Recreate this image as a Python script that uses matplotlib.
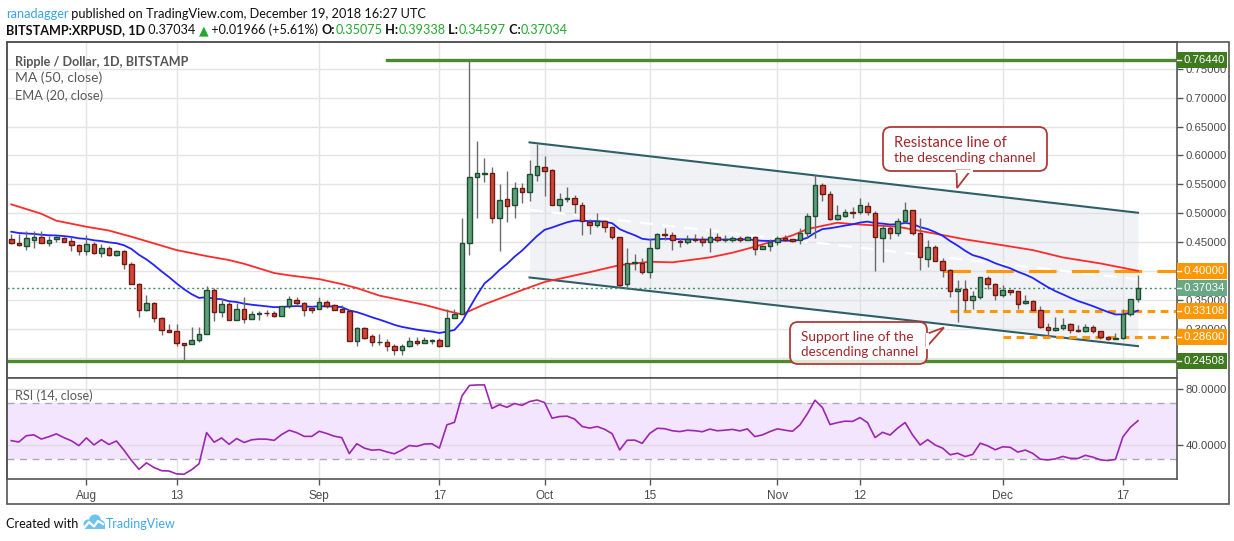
import numpy as np
import pandas as pd
import matplotlib
matplotlib.use('Agg')
import matplotlib.pyplot as plt
from matplotlib.transforms import Affine2D, blended_transform_factory
from matplotlib.patches import Rectangle, FancyBboxPatch, Polygon, Circle
from matplotlib.lines import Line2D

# ---------------- data ----------------
dates = pd.date_range('2018-07-22', '2018-12-19', freq='D')

opens = [0.4547, 0.4483, 0.4425, 0.4541, 0.4581, 0.4478, 0.4547, 0.4564, 0.4512, 0.4443,
         0.4339, 0.4460, 0.4305, 0.4391, 0.4282, 0.4339, 0.4114, 0.3768, 0.3318, 0.3439,
         0.3180, 0.2972, 0.2955, 0.2747, 0.2730, 0.2799, 0.2914, 0.3664, 0.3283, 0.3422,
         0.3145, 0.3335, 0.3162, 0.3249, 0.3270, 0.3266, 0.3226, 0.3387, 0.3491, 0.3439,
         0.3358, 0.3347, 0.3456, 0.3404, 0.3335, 0.3301, 0.2781, 0.3006, 0.2868, 0.2764,
         0.2764, 0.2695, 0.2625, 0.2695, 0.2781, 0.2747, 0.2793, 0.2810, 0.2695, 0.3180,
         0.3249, 0.4477, 0.5620, 0.5683, 0.5694, 0.4910, 0.5239, 0.5135, 0.5429, 0.5360,
         0.5654, 0.5793, 0.5740, 0.5135, 0.5250, 0.5256, 0.5135, 0.4841, 0.4789, 0.4869,
         0.4754, 0.4581, 0.3767, 0.4131, 0.4131, 0.3975, 0.4390, 0.4633, 0.4616, 0.4524,
         0.4495, 0.4547, 0.4547, 0.4495, 0.4581, 0.4530, 0.4530, 0.4570, 0.4530, 0.4581,
         0.4385, 0.4425, 0.4495, 0.4570, 0.4547, 0.4529, 0.4650, 0.4945, 0.5481, 0.5326,
         0.4893, 0.4945, 0.5020, 0.5014, 0.5118, 0.4997, 0.4564, 0.4737, 0.4650, 0.4858,
         0.5049, 0.4651, 0.4212, 0.4408, 0.4166, 0.4010, 0.3647, 0.3681, 0.3502, 0.3543,
         0.3872, 0.3768, 0.3577, 0.3664, 0.3647, 0.3439, 0.3474, 0.3324, 0.3024, 0.2983,
         0.3006, 0.3075, 0.2978, 0.2955, 0.3024, 0.2955, 0.2851, 0.2822, 0.2839, 0.3260,
         0.35075]
highs = [0.4640, 0.4640, 0.4690, 0.4690, 0.4690, 0.4610, 0.4610, 0.4590, 0.4580, 0.4460,
         0.4620, 0.4500, 0.4460, 0.4440, 0.4370, 0.4370, 0.4150, 0.3790, 0.3580, 0.3470,
         0.3210, 0.3090, 0.3090, 0.2747, 0.3030, 0.3030, 0.3733, 0.3699, 0.3526, 0.3470,
         0.3440, 0.3543, 0.3300, 0.3300, 0.3320, 0.3300, 0.3387, 0.3570, 0.3543, 0.3470,
         0.3387, 0.3543, 0.3490, 0.3421, 0.3404, 0.3320, 0.3035, 0.3035, 0.2903, 0.2903,
         0.2816, 0.2735, 0.2730, 0.2851, 0.2850, 0.2851, 0.2816, 0.2833, 0.3335, 0.3335,
         0.4910, 0.7644, 0.6248, 0.5948, 0.5793, 0.5498, 0.5730, 0.5544, 0.5515, 0.5920,
         0.6202, 0.5994, 0.5758, 0.5354, 0.5452, 0.5314, 0.5193, 0.4898, 0.5002, 0.4887,
         0.4770, 0.4581, 0.4390, 0.4287, 0.4217, 0.4575, 0.4650, 0.4737, 0.4667, 0.4570,
         0.4616, 0.4633, 0.4604, 0.4737, 0.4650, 0.4616, 0.4604, 0.4604, 0.4604, 0.4604,
         0.4454, 0.4558, 0.4604, 0.4616, 0.4558, 0.4737, 0.5002, 0.5655, 0.5516, 0.5383,
         0.5135, 0.5066, 0.5112, 0.5262, 0.5193, 0.5031, 0.4789, 0.4789, 0.4922, 0.5193,
         0.5049, 0.4910, 0.4535, 0.4449, 0.4218, 0.4027, 0.3843, 0.3843, 0.3653, 0.3900,
         0.3906, 0.3785, 0.3756, 0.3664, 0.3647, 0.3577, 0.3491, 0.3387, 0.3104, 0.3203,
         0.3180, 0.3104, 0.3070, 0.3075, 0.3058, 0.2966, 0.2874, 0.2920, 0.3347, 0.3520,
         0.39338]
lows = [0.4460, 0.4430, 0.4370, 0.4400, 0.4480, 0.4440, 0.4500, 0.4500, 0.4350, 0.4280,
        0.4280, 0.4290, 0.4250, 0.4260, 0.4260, 0.4040, 0.3770, 0.3210, 0.3300, 0.3120,
        0.2890, 0.2940, 0.2710, 0.2451, 0.2730, 0.2780, 0.2914, 0.3130, 0.3200, 0.3145,
        0.3145, 0.3100, 0.3162, 0.3160, 0.3220, 0.3200, 0.3226, 0.3364, 0.3387, 0.3220,
        0.3270, 0.3347, 0.3364, 0.3330, 0.3295, 0.2781, 0.2695, 0.2816, 0.2695, 0.2712,
        0.2608, 0.2539, 0.2539, 0.2680, 0.2724, 0.2747, 0.2741, 0.2680, 0.2695, 0.3180,
        0.3249, 0.4275, 0.4910, 0.5544, 0.4823, 0.4350, 0.4850, 0.4925, 0.5170, 0.5215,
        0.5562, 0.5302, 0.5135, 0.5030, 0.5200, 0.4998, 0.4616, 0.4633, 0.4754, 0.4679,
        0.4546, 0.3715, 0.3720, 0.4015, 0.3940, 0.3883, 0.4373, 0.4529, 0.4367, 0.4420,
        0.4466, 0.4506, 0.4431, 0.4333, 0.4506, 0.4500, 0.4506, 0.4506, 0.4530, 0.4270,
        0.4379, 0.4339, 0.4454, 0.4523, 0.4500, 0.4472, 0.4570, 0.4570, 0.5216, 0.4881,
        0.4887, 0.4928, 0.4922, 0.4991, 0.4968, 0.4004, 0.4160, 0.4558, 0.4604, 0.4835,
        0.4616, 0.4016, 0.4062, 0.4166, 0.3889, 0.3554, 0.3122, 0.3324, 0.3335, 0.3520,
        0.3687, 0.3502, 0.3543, 0.3577, 0.3347, 0.3427, 0.3324, 0.3006, 0.2879, 0.2966,
        0.2978, 0.2931, 0.2943, 0.2943, 0.2926, 0.2822, 0.2805, 0.2822, 0.2828, 0.3220,
        0.34597]
closes = [0.4478, 0.4443, 0.4564, 0.4581, 0.4489, 0.4530, 0.4581, 0.4507, 0.4443, 0.4339,
          0.4460, 0.4305, 0.4391, 0.4282, 0.4339, 0.4114, 0.3768, 0.3318, 0.3439, 0.3180,
          0.2972, 0.2949, 0.2747, 0.2724, 0.2799, 0.2903, 0.3664, 0.3283, 0.3422, 0.3145,
          0.3335, 0.3162, 0.3249, 0.3272, 0.3266, 0.3226, 0.3387, 0.3508, 0.3439, 0.3330,
          0.3330, 0.3456, 0.3399, 0.3330, 0.3295, 0.2781, 0.3006, 0.2845, 0.2764, 0.2776,
          0.2695, 0.2625, 0.2695, 0.2781, 0.2758, 0.2799, 0.2804, 0.2695, 0.3180, 0.3249,
          0.4478, 0.5620, 0.5694, 0.5700, 0.4910, 0.5221, 0.5118, 0.5429, 0.5360, 0.5677,
          0.5810, 0.5723, 0.5135, 0.5239, 0.5262, 0.5152, 0.4858, 0.4789, 0.4858, 0.4754,
          0.4581, 0.3750, 0.4142, 0.4148, 0.3975, 0.4390, 0.4633, 0.4616, 0.4529, 0.4495,
          0.4547, 0.4530, 0.4495, 0.4581, 0.4530, 0.4547, 0.4570, 0.4530, 0.4581, 0.4385,
          0.4425, 0.4500, 0.4564, 0.4535, 0.4512, 0.4650, 0.4945, 0.5481, 0.5326, 0.4893,
          0.4962, 0.5014, 0.5008, 0.5135, 0.5014, 0.4581, 0.4737, 0.4650, 0.4858, 0.5049,
          0.4651, 0.4235, 0.4408, 0.4166, 0.4010, 0.3647, 0.3693, 0.3502, 0.3560, 0.3889,
          0.3768, 0.3577, 0.3664, 0.3641, 0.3422, 0.3474, 0.3324, 0.3024, 0.2983, 0.3006,
          0.3058, 0.2972, 0.2966, 0.3024, 0.2955, 0.2851, 0.2822, 0.2839, 0.3260, 0.3508,
          0.37034]

# MA(50) (day index, value)
ma_days = [0, 4, 6, 10, 13, 16, 19, 22, 26, 29, 31, 35, 37, 41, 44, 46, 49, 52, 55, 58,
           60, 63, 68, 71, 77, 81, 85, 88, 93, 96, 99, 101, 104, 106, 110, 112, 115, 118,
           124, 127, 131, 136, 140, 145, 150]
ma_vals = [0.5153, 0.4990, 0.4870, 0.4766, 0.4700, 0.4593, 0.4478, 0.4362, 0.4258, 0.4189,
           0.4125, 0.3965, 0.3925, 0.3860, 0.3774, 0.3705, 0.3575, 0.3495, 0.3415, 0.3310,
           0.3250, 0.3424, 0.3670, 0.3810, 0.3980, 0.4102, 0.4160, 0.4150, 0.4235, 0.4316,
           0.4420, 0.4500, 0.4616, 0.4726, 0.4835, 0.4812, 0.4789, 0.4766, 0.4622, 0.4547,
           0.4466, 0.4362, 0.4235, 0.4131, 0.4004]
ema_seed = 0.468
rsi_seed_gain, rsi_seed_loss = 0.0050, 0.0066

# drawn levels / channel
level_top, level_top_from = 0.76440, '2018-09-10'
level_bottom = 0.24508
res_level, res_from = 0.40000, '2018-11-23'
sup1_level, sup1_from = 0.33108, '2018-11-24'
sup2_level, sup2_from = 0.28600, '2018-12-01'
last_price = 0.37034
channel_days = ['2018-09-29', '2018-12-19']
channel_upper = [0.6225, 0.5008]
channel_lower = [0.3888, 0.2700]

tick_dates = ['2018-08-01', '2018-08-13', '2018-09-01', '2018-09-17', '2018-10-01',
              '2018-10-15', '2018-11-01', '2018-11-12', '2018-12-01', '2018-12-17']
tick_labels = ['Aug', '13', 'Sep', '17', 'Oct', '15', 'Nov', '12', 'Dec', '17']
price_ticks = [0.30, 0.35, 0.40, 0.45, 0.50, 0.55, 0.60, 0.65, 0.70, 0.75]
rsi_ticks = [40, 80]

# ---------------- derived ----------------
O = np.array(opens); Hh = np.array(highs); Lw = np.array(lows); C = np.array(closes)
idx = np.arange(len(C))
day = {d.strftime('%Y-%m-%d'): i for i, d in enumerate(dates)}

ema = [ema_seed]
a = 2 / 21
for c in C[1:]:
    ema.append(a * c + (1 - a) * ema[-1])
ema = np.array(ema)

dif = np.diff(C)
ag, al = [rsi_seed_gain], [rsi_seed_loss]
for dd in dif:
    ag.append((ag[-1] * 13 + max(dd, 0)) / 14)
    al.append((al[-1] * 13 + max(-dd, 0)) / 14)
rsi = 100 - 100 / (1 + np.array(ag) / np.array(al))

# ---------------- figure ----------------
W, Hpx = 1234, 541
plt.rcParams['font.family'] = ['Liberation Sans', 'DejaVu Sans']
fig = plt.figure(figsize=(W / 100, Hpx / 100), dpi=100)
fig.patch.set_facecolor('white')
PX = Affine2D().scale(1 / W, -1 / Hpx).translate(0, 1) + fig.transFigure

L0, R0, T0, B0, RB = 7, 1177, 42, 378, 479
ax = fig.add_axes([L0 / W, 1 - B0 / Hpx, (R0 - L0) / W, (B0 - T0) / Hpx])
axr = fig.add_axes([L0 / W, 1 - RB / Hpx, (R0 - L0) / W, (RB - B0) / Hpx], sharex=ax)

XL = (-0.57, 155.2)
ax.set_xlim(*XL)
ax.set_ylim(0.2149, 0.7962)
axr.set_ylim(15.71, 87.86)

SPC = '#555555'
GRID = '#e4e4e4'
TXT = '#4a4a4a'
for a_ in (ax, axr):
    for s in a_.spines.values():
        s.set_color(SPC)
        s.set_linewidth(1.2)
    a_.set_facecolor('white')

tpos = [day[d] for d in tick_dates]
for t in tpos:
    ax.axvline(t, color=GRID, lw=1, zorder=0)
    axr.axvline(t, color=GRID, lw=1, zorder=0)
for p in price_ticks + [0.25]:
    ax.axhline(p, color=GRID, lw=1, zorder=0)

# price axis
ax.yaxis.tick_right()
ax.set_yticks(price_ticks)
ax.set_yticklabels(['%.5f' % p for p in price_ticks])
ax.tick_params(axis='y', colors=SPC, labelcolor=TXT, labelsize=8.2, length=4, width=1, pad=2)
ax.tick_params(axis='x', length=0, labelbottom=False)

# channel
cx = [day[d] for d in channel_days]
ax.fill_between(cx, channel_lower, channel_upper, color='#d7dce4', alpha=0.35, lw=0, zorder=1)
ax.plot(cx, channel_upper, color='#2f5f68', lw=1.5, zorder=2)
ax.plot(cx, channel_lower, color='#2f5f68', lw=1.5, zorder=2)
ax.plot(cx, [(u + l) / 2 for u, l in zip(channel_upper, channel_lower)], color='white',
        lw=1.6, dashes=(6, 4), zorder=1.5)

# horizontal levels
GL = '#4e8a2c'
ax.plot([day[level_top_from], XL[1]], [level_top, level_top], color=GL, lw=2.4, zorder=2)
ax.axhline(level_bottom, color=GL, lw=2.4, zorder=2)
ax.axhline(last_price, color='#3f9160', lw=1, ls=(0, (1.5, 2)), zorder=2)
OR = '#ff9800'
ax.plot([day[res_from], XL[1]], [res_level] * 2, color=OR, lw=2.2, dashes=(9, 5), zorder=2.5)
ax.plot([day[sup1_from], XL[1]], [sup1_level] * 2, color=OR, lw=2.2, dashes=(2.5, 1.8), zorder=2.5)
ax.plot([day[sup2_from], XL[1]], [sup2_level] * 2, color=OR, lw=2.2, dashes=(2.5, 1.8), zorder=2.5)

# MA / EMA
ax.plot(ma_days, ma_vals, color='#ff2a2a', lw=1.3, zorder=2.6)
ax.plot(idx, ema, color='#2323ff', lw=1.3, zorder=2.6)

# candles
up = C >= O
ax.vlines(idx, Lw, Hh, color='#6b6b6b', lw=1, zorder=3)
bot = np.minimum(O, C)
hgt = np.maximum(np.abs(C - O), 0.0012)
ax.bar(idx, hgt, bottom=bot, width=0.6,
       color=np.where(up, '#5f9f7b', '#d4463a'),
       edgecolor=np.where(up, '#1d4d30', '#6e1a12'), linewidth=1, zorder=4)

# right-side badges
BT = blended_transform_factory(PX, ax.transData)
bh = 16 / 578
for val, col in [(level_top, '#3f7a1f'), (res_level, OR), (last_price, '#68a884'),
                 (sup1_level, OR), (sup2_level, OR), (level_bottom, '#3f7a1f')]:
    ax.add_patch(Rectangle((R0, val - bh / 2), 1227 - R0, bh, transform=BT, fc=col, ec='none',
                           clip_on=False, zorder=20))
    ax.add_line(Line2D([R0, R0 + 4], [val, val], transform=BT, color='white', lw=1,
                       clip_on=False, zorder=21))
    ax.text(1183, val, '%.5f' % val, transform=BT, color='white', fontsize=8.2,
            va='center', ha='left', clip_on=False, zorder=22)

# RSI pane
axr.axhspan(30, 70, color='#f3e5fd', zorder=0.5, lw=0)
for v in rsi_ticks:
    axr.axhline(v, color='#e0dae6', lw=1, zorder=0.6)
for v in (30, 70):
    axr.axhline(v, color='#a9a9b3', lw=1, dashes=(5, 4), zorder=0.7)
axr.plot(idx, rsi, color='#9c27b0', lw=1.2, zorder=3)
axr.yaxis.tick_right()
axr.set_yticks(rsi_ticks)
axr.set_yticklabels(['%.4f' % v for v in rsi_ticks])
axr.tick_params(axis='y', colors=SPC, labelcolor=TXT, labelsize=8.2, length=4, width=1, pad=2)
axr.set_xticks(tpos)
axr.set_xticklabels(tick_labels)
axr.tick_params(axis='x', colors=SPC, labelcolor=TXT, labelsize=8.5, length=4, width=1, pad=4)

# outer frame
fig.add_artist(Rectangle((L0, T0), 1229 - L0, 504 - T0, transform=PX, fill=False,
                         ec=SPC, lw=1.2))

renderer = fig.canvas.get_renderer()


def seq_text(x, y, pieces, target_w, family, size=10):
    arts = []
    for s, col, wt in pieces:
        t = fig.text(x, y, s, transform=PX, fontsize=size, color=col, fontweight=wt,
                     family=family, va='baseline', ha='left')
        arts.append(t)
    tot = sum(t.get_window_extent(renderer).width for t in arts)
    f = target_w / tot
    cur = x
    for t in arts:
        t.set_fontsize(size * f)
        t.set_position((cur, y))
        cur += t.get_window_extent(renderer).width
    return arts


FAM = ['Lato', 'DejaVu Sans']
GRN = '#22a82e'
seq_text(6, 17.5, [('ranadagger', '#3aa3df', 'normal'),
                   (' published on TradingView.com, December 19, 2018 16:27 UTC', '#111111', 'normal')],
         421, FAM)
seq_text(6, 34.5, [('BITSTAMP:XRPUSD, 1D', '#111111', 'bold'), (' 0.37034 ', '#111111', 'normal'),
                   ('▲', GRN, 'normal'), (' +0.01966 (+5.61%) ', '#111111', 'normal'),
                   ('O:', '#111111', 'bold'), ('0.35075', GRN, 'normal'),
                   (' H:', '#111111', 'bold'), ('0.39338', GRN, 'normal'),
                   (' L:', '#111111', 'bold'), ('0.34597', GRN, 'normal'),
                   (' C:', '#111111', 'bold'), ('0.37034', GRN, 'normal')], 559, FAM)
seq_text(15, 65.5, [('Ripple / Dollar, 1D, BITSTAMP', '#555555', 'bold')], 174, FAM)
seq_text(15, 82.5, [('MA (50, close)', '#5a5a5a', 'normal')], 87, FAM)
seq_text(15, 99.5, [('EMA (20, close)', '#5a5a5a', 'normal')], 88, FAM)
seq_text(15, 399.5, [('RSI (14, close)', '#5a5a5a', 'normal')], 78, FAM)
seq_text(6, 527.5, [('Created with', '#111111', 'normal')], 73, FAM)
seq_text(106, 527.5, [('TradingView', '#3fa9e6', 'normal')], 70, FAM)

# TradingView logo
LB = '#6cc4ee'
for (x, y, r) in [(88, 524, 4.5), (95, 520.5, 6), (100.5, 524.5, 4.5)]:
    fig.add_artist(Circle((x, y), r, transform=PX, fc=LB, ec='none'))
fig.add_artist(Rectangle((84, 524), 21, 5, transform=PX, fc=LB, ec='none'))
fig.add_artist(Line2D([84, 89, 94, 98, 103], [528, 522, 526.5, 521, 524], transform=PX,
                      color='white', lw=1.6))

# callouts
RED = '#b03a3a'
TRED = '#a3262a'


def callout(x0, y0, x1, y1, ptr, lines, tx, tys, widths):
    fig.add_artist(FancyBboxPatch((x0, y0), x1 - x0, y1 - y0, boxstyle='round,pad=0,rounding_size=8',
                                  transform=PX, fc=(1, 1, 1, 0.8), ec=RED, lw=1.3, zorder=30))
    fig.add_artist(Polygon(ptr, closed=True, transform=PX, fc='white', ec=RED, lw=1.3, zorder=31))
    (bx0, by0), (bx1, by1) = ptr[0], ptr[2]
    fig.add_artist(Line2D([bx0, bx1], [by0, by1], transform=PX, color='white', lw=2.2, zorder=32))
    for s, ty, w in zip(lines, tys, widths):
        t = seq_text(tx, ty, [(s, TRED, 'normal')], w, FAM)
        for a_ in t:
            a_.set_zorder(33)


callout(883, 127, 1047, 171, [(956.5, 170.5), (957, 188), (970.5, 170.5)],
        ['Resistance line of', 'the descending channel'], 894, [147, 161.5], [112, 141])
callout(790, 322, 927, 364, [(926.5, 334), (944, 327.5), (926.5, 347)],
        ['Support line of the', 'descending channel'], 801, [341, 355.5], [112, 117])

fig.savefig('out.png', dpi=100)
